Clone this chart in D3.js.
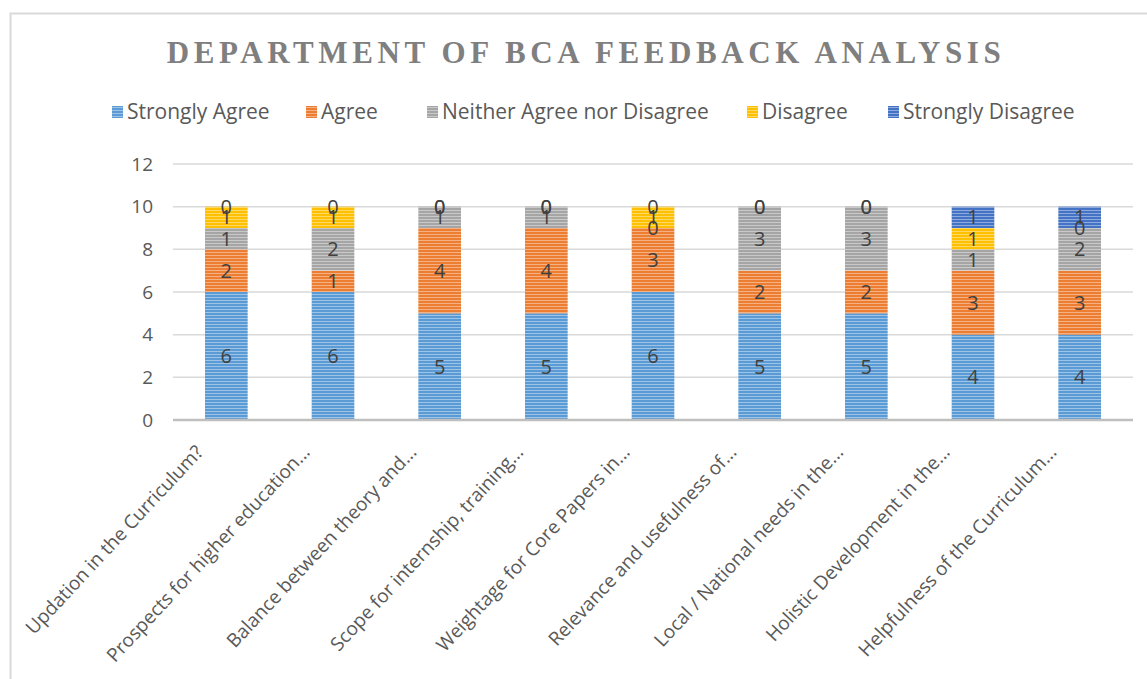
<!DOCTYPE html>
<html>
<head>
<meta charset="utf-8">
<script src="https://cdn.jsdelivr.net/npm/d3@7"></script>
<style>
	body { margin: 0; background: #fff; }
	svg text { font-family: "Open Sans", "Noto Sans", sans-serif; }
</style>
</head>
<body>
<svg id="chart" width="1147" height="679"></svg>
<script>
var categories = [
	"Updation in the Curriculum?",
	"Prospects for higher education...",
	"Balance between theory and...",
	"Scope for internship, training...",
	"Weightage for Core Papers in...",
	"Relevance and usefulness of...",
	"Local / National needs in the...",
	"Holistic Development in the...",
	"Helpfulness of the Curriculum..."
];
var seriesNames = ["Strongly Agree", "Agree", "Neither Agree nor Disagree", "Disagree", "Strongly Disagree"];
var stronglyAgree    = [6, 6, 5, 5, 6, 5, 5, 4, 4];
var agree            = [2, 1, 4, 4, 3, 2, 2, 3, 3];
var neither          = [1, 2, 1, 1, 0, 3, 3, 1, 2];
var disagree         = [1, 1, 0, 0, 1, 0, 0, 1, 0];
var stronglyDisagree = [0, 0, 0, 0, 0, 0, 0, 1, 1];
var yTicks = [0, 2, 4, 6, 8, 10, 12];
var colorList = ["#5B9BD5", "#ED7D31", "#A5A5A5", "#FFC000", "#4472C4"];

var seriesValues = [stronglyAgree, agree, neither, disagree, stronglyDisagree];
var rows = categories.map(function(c, i){
	var r = { category: c };
	seriesNames.forEach(function(s, k){ r[s] = seriesValues[k][i]; });
	return r;
});

var svg = d3.select("#chart");
var margin = { left: 173, right: 14, top: 164, bottom: 259 };
var width  = 1147 - margin.left - margin.right;
var height = 679 - margin.top - margin.bottom;

// outer border
svg.append("path")
	.attr("d", "M 10.5 679 L 10.5 13.5 L 1147 13.5")
	.attr("fill", "none")
	.attr("stroke", "#d9d9d9")
	.attr("stroke-width", 2);

// striped patterns
var defs = svg.append("defs");
colorList.forEach(function(col, k){
	var p = defs.append("pattern")
		.attr("id", "pat" + k)
		.attr("patternUnits", "userSpaceOnUse")
		.attr("width", 6).attr("height", 3);
	p.append("rect").attr("width", 6).attr("height", 3).attr("fill", col);
	p.append("rect").attr("y", 1).attr("width", 6).attr("height", 1)
		.attr("fill", "#fff").attr("fill-opacity", 0.4);
});

// title
svg.append("text")
	.attr("x", 586).attr("y", 63)
	.attr("text-anchor", "middle")
	.style("font-family", "'Liberation Serif', 'DejaVu Serif', serif")
	.style("font-weight", "bold")
	.style("font-size", "31px")
	.style("letter-spacing", "4.6px")
	.attr("fill", "#7f7f7f")
	.text("DEPARTMENT OF BCA FEEDBACK ANALYSIS");

// legend
var legendX = [112, 306, 427, 747, 888];
var legend = svg.append("g").selectAll("g")
	.data(seriesNames)
	.enter().append("g")
	.attr("transform", function(d, i){ return "translate(" + legendX[i] + ",112)"; });
legend.append("rect")
	.attr("x", 0).attr("y", -6).attr("width", 11).attr("height", 12)
	.attr("fill", function(d, i){ return "url(#pat" + i + ")"; });
legend.append("text")
	.attr("x", 15).attr("y", 0).attr("dy", "0.35em")
	.style("font-size", "21px")
	.attr("fill", "#595959")
	.text(function(d){ return d; });

var g = svg.append("g").attr("transform", "translate(" + margin.left + "," + margin.top + ")");

var x = d3.scaleBand().domain(categories).range([0, width]).paddingInner(0.6).paddingOuter(0.3);
var y = d3.scaleLinear().domain([0, 12]).range([height, 0]);

// gridlines
g.append("g").selectAll("line")
	.data(yTicks.filter(function(t){ return t > 0; }))
	.enter().append("line")
	.attr("x1", 0).attr("x2", width)
	.attr("y1", function(d){ return y(d); }).attr("y2", function(d){ return y(d); })
	.attr("stroke", "#d9d9d9").attr("stroke-width", 1.5);

// y axis labels
var yAxis = g.append("g").call(d3.axisLeft(y).tickValues(yTicks).tickSize(0).tickPadding(20));
yAxis.select(".domain").remove();
yAxis.selectAll("text")
	.style("font-size", "19px")
	.style("font-family", "'Open Sans', sans-serif")
	.attr("fill", "#595959");

// stacks
var stack = d3.stack().keys(seriesNames);
var stacked = stack(rows);

var layers = g.append("g").selectAll("g")
	.data(stacked)
	.enter().append("g")
	.attr("fill", function(d, i){ return "url(#pat" + i + ")"; });

layers.selectAll("rect")
	.data(function(d){ return d; })
	.enter().append("rect")
	.attr("x", function(d){ return x(d.data.category); })
	.attr("width", x.bandwidth())
	.attr("y", function(d){ return y(d[1]); })
	.attr("height", function(d){ return y(d[0]) - y(d[1]); });

// baseline
g.append("line")
	.attr("x1", 0).attr("x2", width)
	.attr("y1", y(0)).attr("y2", y(0))
	.attr("stroke", "#bfbfbf").attr("stroke-width", 2.5);

// data labels
stacked.forEach(function(layer){
	g.append("g").selectAll("text")
		.data(layer)
		.enter().append("text")
		.attr("x", function(d){ return x(d.data.category) + x.bandwidth() / 2; })
		.attr("y", function(d){ return y((d[0] + d[1]) / 2); })
		.attr("dy", "0.35em")
		.attr("text-anchor", "middle")
		.style("font-size", "20px")
		.attr("fill", "#404040")
		.text(function(d){ return d[1] - d[0]; });
});

// x labels
var xAxis = g.append("g")
	.attr("transform", "translate(0," + height + ")")
	.call(d3.axisBottom(x).tickSize(0).tickPadding(0));
xAxis.select(".domain").remove();
xAxis.selectAll("text")
	.style("font-size", "19px")
	.attr("fill", "#595959")
	.attr("text-anchor", "end")
	.attr("dy", "0")
	.attr("transform", "translate(-22,33) rotate(-47)");
</script>
</body>
</html>
